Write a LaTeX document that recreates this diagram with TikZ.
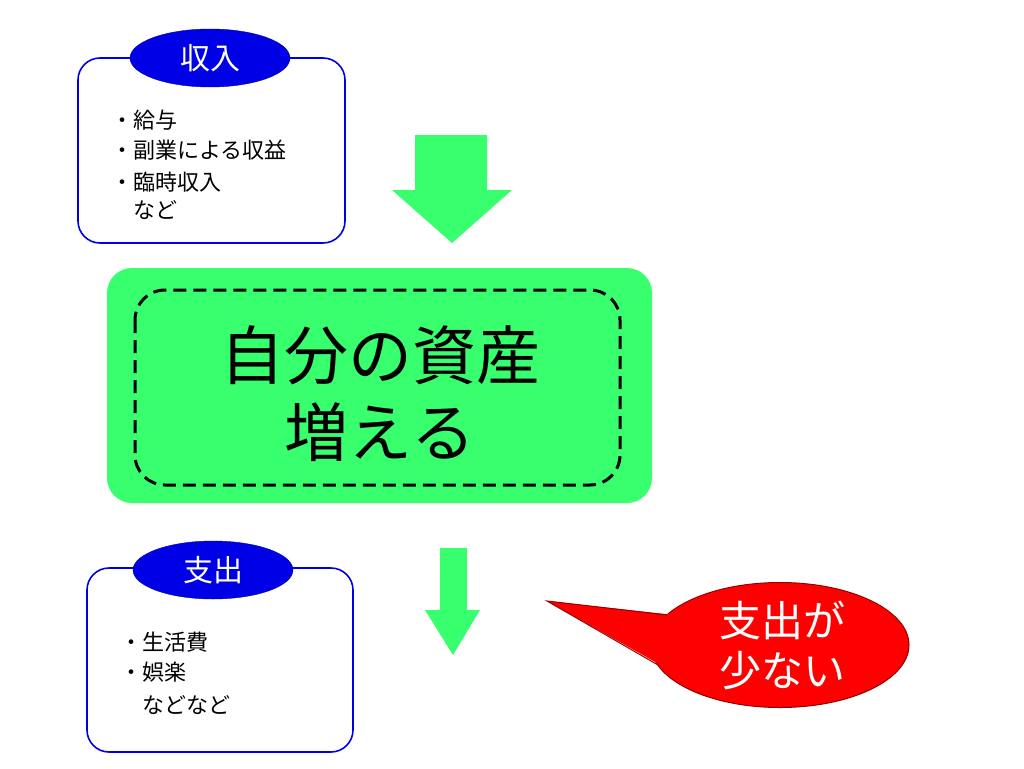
\documentclass[tikz,border=0pt]{standalone}
\usepackage{fontspec}
\setmainfont{Noto Sans CJK JP}
\usetikzlibrary{shapes.geometric}
\definecolor{gr}{RGB}{55,255,110}
\definecolor{bl}{RGB}{0,0,230}
\definecolor{rd}{RGB}{255,0,0}
\definecolor{drd}{RGB}{150,0,0}
\tikzset{
 listbox/.style={draw=bl,line width=1.6pt,rounded corners=22pt,fill=white},
 tag/.style={ellipse,fill=bl,draw=bl!70!black,minimum width=160pt,minimum height=58pt,text=white,font=\fontsize{30}{34}\selectfont},
 item/.style={anchor=west,font=\fontsize{22}{26}\selectfont},
 garrow/.style={fill=gr,draw=none}
}
\begin{document}
\begin{tikzpicture}[x=1pt,y=-1pt]
\useasboundingbox (0,0) rectangle (1024,768);
% box 1
\draw[listbox] (78,58) rectangle (345,243);
\node[tag] (t1) at (210,58) {収入};
\node[item] (a1) at (108,120) {・給与};
\node[item] (a2) at (108,150) {・副業による収益};
\node[item] (a3) at (108,182) {・臨時収入};
\node[item] (a4) at (108,210) {\hspace{22pt}など};
% arrow 1
\fill[garrow] (415,135) -- (487,135) -- (487,190) -- (512,190) -- (452,243) -- (392,190) -- (415,190) -- cycle;
% main box
\fill[gr,rounded corners=25pt] (107,268) rectangle (652,503);
\draw[black,line width=3pt,dash pattern=on 13pt off 7pt,rounded corners=30pt] (135,290) rectangle (620,485);
\node[font=\fontsize{64}{70}\selectfont] (m1) at (380,355) {自分の資産};
\node[font=\fontsize{64}{70}\selectfont] (m2) at (380,432) {増える};
% box 2
\draw[listbox] (87,568) rectangle (353,752);
\node[tag] (t2) at (213,570) {支出};
\node[item] (b1) at (117,642) {・生活費};
\node[item] (b2) at (117,672) {・娯楽};
\node[item] (b3) at (117,705) {\hspace{22pt}などなど};
% arrow 2
\fill[garrow] (440,548) -- (467,548) -- (467,610) -- (480,610) -- (453,655) -- (425,610) -- (440,610) -- cycle;
% callout
\node[ellipse,fill=rd,draw=drd,line width=1pt,minimum width=258pt,minimum height=125pt,inner sep=0pt] (c) at (780,645) {};
\fill[rd] (547,601) -- (674,615) -- (664,667) -- cycle;
\draw[drd,line width=1pt] (667,615) -- (547,601) -- (658,665);
\node[text=white,font=\fontsize{42}{50}\selectfont,align=center] (ct) at (782,645) {支出が\\少ない};
\end{tikzpicture}
\end{document}
